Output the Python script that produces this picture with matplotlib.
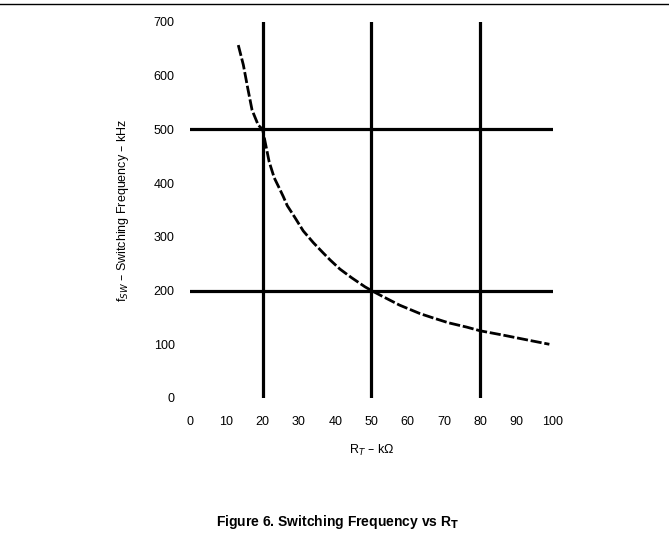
import matplotlib
matplotlib.use("Agg")
import matplotlib.pyplot as plt
from matplotlib.lines import Line2D

# valeurs
rt_kohm = [13.3, 14.7, 15.9, 17.1, 18.8, 20.0, 21.8, 23.2, 24.5, 25.7, 26.8,
           28.9, 31.2, 34.0, 36.7, 38.6, 41.3, 44.5, 48.2, 50.0, 52.8, 57.7,
           63.4, 67.0, 71.2, 76.2, 80.0, 86.3, 93.7, 99.0]
freq_khz = [657, 620, 577, 536, 508, 500, 440, 410, 392, 375, 358,
            336, 311, 289, 270, 257, 240, 224, 207, 200, 190, 173,
            157, 149, 140, 132, 125, 117, 107, 100]

x_ticks = [0, 10, 20, 30, 40, 50, 60, 70, 80, 90, 100]
y_ticks = [0, 100, 200, 300, 400, 500, 600, 700]
x_grid = [20, 50, 80]
y_grid = [200, 500]

plt.rcParams['font.family'] = ['Liberation Sans', 'DejaVu Sans']

fig = plt.figure(figsize=(6.69, 5.44), dpi=100)
ax = fig.add_axes([0.284, 0.2684, 0.5426, 0.6912])

for xv in x_grid:
    ax.axvline(xv, color='black', lw=2.3, zorder=1)
for yv in y_grid:
    ax.axhline(yv, color='black', lw=2.3, zorder=1)

ax.plot(rt_kohm, freq_khz, color='black', lw=2.0, ls=(0, (4, 1)), zorder=2)

ax.set_xlim(0, 100)
ax.set_ylim(0, 700)
ax.set_xticks(x_ticks)
ax.set_yticks(y_ticks)
ax.tick_params(length=0, labelsize=9)
ax.tick_params(axis='y', pad=11)
ax.tick_params(axis='x', pad=13)
for s in ax.spines.values():
    s.set_visible(False)

ax.set_xlabel('R$_T$ – kΩ', fontsize=9, labelpad=11)
ax.set_ylabel('f$_{SW}$ – Switching Frequency – kHz', fontsize=9, labelpad=16)

# trait en haut de la page
fig.add_artist(Line2D([0, 1], [1 - 3.5 / 544, 1 - 3.5 / 544], color='black', lw=1))

fig.text(0.505, 1 - 522 / 544, 'Figure 6. Switching Frequency vs R$_\\mathbf{T}$',
         ha='center', va='center', fontsize=10, fontweight='bold')

fig.savefig('out.png', dpi=100)
